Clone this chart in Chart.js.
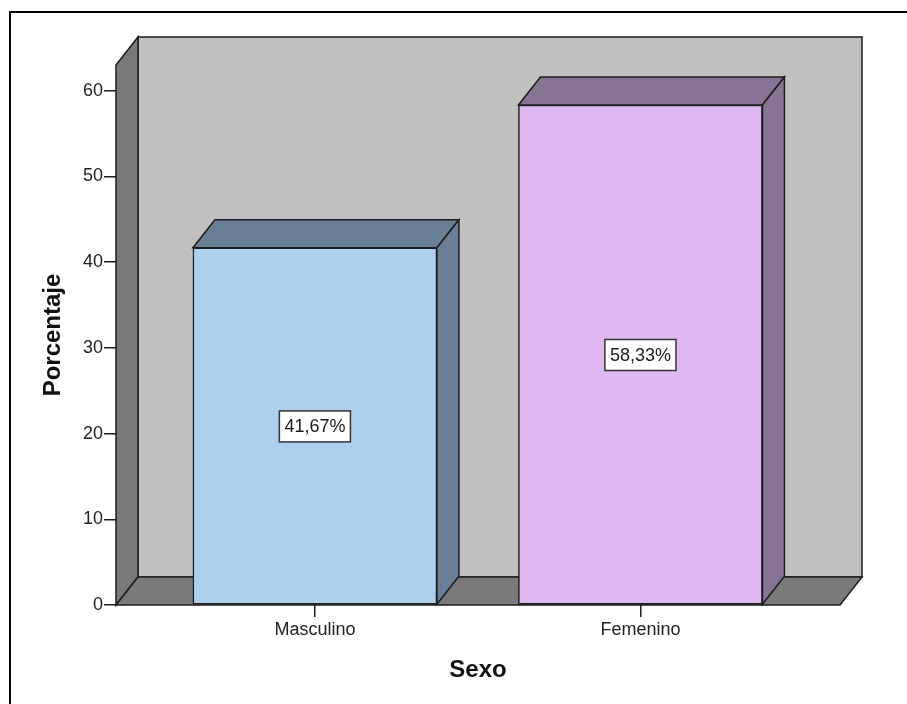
<!DOCTYPE html>
<html>
<head>
<meta charset="utf-8">
<script src="https://cdn.jsdelivr.net/npm/chart.js@4/dist/chart.umd.min.js"></script>
<style>
  html, body { margin: 0; padding: 0; background: #fff; }
  #wrap { width: 907px; height: 704px; position: relative; }
</style>
</head>
<body>
<div id="wrap"><canvas id="myChart" width="907" height="704"></canvas></div>
<script>
const categories = ["Masculino", "Femenino"]
const percentages = [41.67, 58.33]
const frontColors = ["#aecfee", "#dfb8f2"]
const shadeColors = ["#687f95", "#877394"]
const yTicks = [0, 10, 20, 30, 40, 50, 60]

// depth of the 3D extrusion
const DX = 22
const DY = -28
const EDGE = "#1c1c1c"

function poly(ctx, pts, fill) {
    ctx.beginPath()
    ctx.moveTo(pts[0][0], pts[0][1])
    for (let i = 1; i < pts.length; i++) ctx.lineTo(pts[i][0], pts[i][1])
    ctx.closePath()
    ctx.fillStyle = fill
    ctx.fill()
    ctx.stroke()
}

const box3d = {
    id: "box3d",
    beforeDraw(chart) {
        const ctx = chart.ctx
        ctx.save()
        ctx.strokeStyle = "#000"
        ctx.lineWidth = 2
        ctx.strokeRect(10, 12, 1200, 1200)
        ctx.restore()
    },
    beforeDatasetsDraw(chart) {
        const { ctx, chartArea: a } = chart
        ctx.save()
        ctx.lineWidth = 1.5
        ctx.strokeStyle = EDGE
        ctx.lineJoin = "miter"
        // back wall
        poly(ctx, [[a.left + DX, a.top + DY], [a.right + DX, a.top + DY],
                   [a.right + DX, a.bottom + DY], [a.left + DX, a.bottom + DY]], "#c0c0c0")
        // left wall
        poly(ctx, [[a.left, a.top], [a.left + DX, a.top + DY],
                   [a.left + DX, a.bottom + DY], [a.left, a.bottom]], "#7a7a7a")
        // floor
        poly(ctx, [[a.left, a.bottom], [a.left + DX, a.bottom + DY],
                   [a.right + DX, a.bottom + DY], [a.right, a.bottom]], "#7a7a7a")
        ctx.restore()
    },
    afterDatasetsDraw(chart) {
        const ctx = chart.ctx
        const meta = chart.getDatasetMeta(0)
        ctx.save()
        ctx.lineWidth = 1.5
        ctx.strokeStyle = EDGE
        meta.data.forEach((bar, i) => {
            const p = bar.getProps(["x", "y", "base", "width"], true)
            const l = p.x - p.width / 2
            const r = p.x + p.width / 2
            // top face
            poly(ctx, [[l, p.y], [l + DX, p.y + DY], [r + DX, p.y + DY], [r, p.y]], shadeColors[i])
            // side face
            poly(ctx, [[r, p.y], [r + DX, p.y + DY], [r + DX, p.base + DY], [r, p.base]], shadeColors[i])
        })
        // value boxes at half height
        const yScale = chart.scales.y
        ctx.font = "18px 'Liberation Sans', Arial, sans-serif"
        ctx.textAlign = "center"
        ctx.textBaseline = "middle"
        meta.data.forEach((bar, i) => {
            const txt = percentages[i].toFixed(2).replace(".", ",") + "%"
            const cx = bar.x
            const cy = yScale.getPixelForValue(percentages[i] / 2)
            const w = ctx.measureText(txt).width + 10
            const h = 31
            ctx.fillStyle = "#fff"
            ctx.fillRect(cx - w / 2, cy - h / 2, w, h)
            ctx.strokeStyle = "#333"
            ctx.strokeRect(cx - w / 2, cy - h / 2, w, h)
            ctx.fillStyle = "#1a1a1a"
            ctx.fillText(txt, cx, cy + 1)
        })
        // axis titles
        ctx.fillStyle = "#111"
        ctx.font = "bold 24px 'Liberation Sans', Arial, sans-serif"
        ctx.fillText("Sexo", 478, 670)
        ctx.translate(53, 335)
        ctx.rotate(-Math.PI / 2)
        ctx.fillText("Porcentaje", 0, 0)
        ctx.restore()
    }
}

const ctx = document.querySelector("#myChart").getContext("2d")

new Chart(ctx, {
    type: "bar",
    data: {
        datasets: [{
            data: categories.map((c, i) => ({ x: i, y: percentages[i] })),
            backgroundColor: frontColors,
            borderColor: EDGE,
            borderWidth: 1.5,
            borderSkipped: false,
            barThickness: 244
        }]
    },
    options: {
        responsive: false,
        animation: false,
        layout: { padding: { left: 0, top: 65, right: 67, bottom: 0 } },
        plugins: {
            legend: { display: false },
            tooltip: { enabled: false }
        },
        scales: {
            x: {
                type: "linear",
                offset: false,
                min: -0.611,
                max: 1.613,
                afterBuildTicks: s => { s.ticks = categories.map((c, i) => ({ value: i })) },
                afterFit: s => { s.height = 99 },
                border: { display: false },
                grid: { offset: false, drawOnChartArea: false, tickLength: 12, color: EDGE, lineWidth: 1.5 },
                ticks: {
                    callback: v => categories[v],
                    color: "#222",
                    padding: 2,
                    maxRotation: 0,
                    font: { family: "'Liberation Sans', Arial, sans-serif", size: 18 }
                }
            },
            y: {
                min: 0,
                max: 63,
                afterBuildTicks: s => { s.ticks = yTicks.map(v => ({ value: v })) },
                afterFit: s => { s.width = 116 },
                border: { display: false },
                grid: { drawOnChartArea: false, tickLength: 12, color: EDGE, lineWidth: 1.5 },
                ticks: {
                    color: "#222",
                    padding: 1,
                    font: { family: "'Liberation Sans', Arial, sans-serif", size: 18 }
                }
            }
        }
    },
    plugins: [box3d]
})
</script>
</body>
</html>
